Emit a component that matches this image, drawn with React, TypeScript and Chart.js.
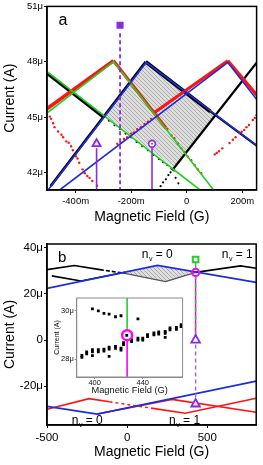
import React, { useEffect, useRef } from 'react';
import { Chart, registerables } from 'chart.js';

Chart.register(...registerables);

const FONT = "'Liberation Sans', Arial, Helvetica, sans-serif";

// ================= Panel a (x: field in G, y: current in µA) =================
const aXTicks = [-0.4, -0.2, 0, 0.2];
const aXTickLabels = ['-400m', '-200m', '0', '200m'];
const aYTicks = [42, 45, 48, 51];
const aYTickLabels = ['42μ', '45μ', '48μ', '51μ'];

// fitted lines
const aGreen1X = [-0.503, -0.2635, 0.097];
const aGreen1Y = [45.21, 48.0, 41.04];
const aGreen2X = [-0.503, 0.048];
const aGreen2Y = [47.46, 41.04];
const aBlue1X = [-0.499, -0.146, 0.2515];
const aBlue1Y = [41.04, 47.96, 43.46];
const aBlue2X = [-0.4575, 0.148, 0.2515];
const aBlue2Y = [41.04, 47.96, 45.96];

// dense measured branches
const aRed1X = [-0.503, -0.2635];
const aRed1Y = [45.45, 48.05];
const aRed2X = [-0.2635, -0.075];
const aRed2Y = [48.05, 44.4];
const aRed3X = [-0.12, 0.148];
const aRed3Y = [45.2, 48.05];
const aRed4X = [0.148, 0.2515];
const aRed4Y = [48.05, 46.2];

const aBlk1X = [-0.503, -0.3];
const aBlk1Y = [47.38, 45.0];
const aBlk2X = [-0.49, -0.148];
const aBlk2Y = [41.25, 48.0];
const aBlk3X = [-0.148, 0.085];
const aBlk3Y = [48.0, 45.3];
const aBlk4X = [0.085, 0.2515];
const aBlk4Y = [45.3, 43.45];
const aBlk5X = [-0.05, 0.2515];
const aBlk5Y = [42.15, 47.95];

// sparse measured points
const aRedSparse1X = [-0.493, -0.488, -0.481, -0.476, -0.463, -0.451, -0.445, -0.434, -0.425, -0.416, -0.41, -0.399, -0.393, -0.387, -0.375, -0.367, -0.358, -0.35, -0.34, -0.323];
const aRedSparse1Y = [45.02, 44.9, 44.66, 44.45, 44.21, 44.04, 43.9, 43.68, 43.6, 43.41, 43.2, 42.87, 42.75, 42.52, 42.16, 41.95, 41.8, 41.7, 41.53, 41.27];
const aRedSparse2X = [-0.25, -0.238, -0.226, -0.214, -0.2, -0.19, -0.178, -0.165, -0.152, -0.14, -0.128];
const aRedSparse2Y = [43.55, 43.62, 43.81, 43.9, 44.1, 44.16, 44.34, 44.45, 44.62, 44.74, 44.9];
const aRedSparse3X = [-0.07, -0.055, -0.045, -0.032, -0.02, -0.008, 0.004, 0.016, 0.028, 0.04, 0.052];
const aRedSparse3Y = [44.35, 44.0, 43.85, 43.55, 43.3, 43.1, 42.85, 42.65, 42.4, 42.15, 41.95];
const aRedSparse4X = [0.101, 0.108, 0.116, 0.128, 0.154, 0.166, 0.176, 0.189, 0.198, 0.207, 0.215, 0.224, 0.238, 0.245, 0.2515];
const aRedSparse4Y = [42.97, 43.05, 43.14, 43.3, 43.59, 43.77, 43.9, 44.13, 44.2, 44.3, 44.45, 44.57, 44.84, 44.95, 45.11];
const aBlkSparse1X = [-0.28, -0.26, -0.24, -0.22, -0.2, -0.18, -0.16, -0.14, -0.12, -0.1, -0.085, -0.07, -0.055, -0.045];
const aBlkSparse1Y = [44.8, 44.55, 44.35, 44.1, 43.9, 43.65, 43.42, 43.2, 42.95, 42.72, 42.55, 42.4, 42.2, 42.1];
const aBlkSparse2X = [-0.094, -0.085, -0.075, -0.066, -0.058, -0.05, -0.04, -0.03];
const aBlkSparse2Y = [41.25, 41.45, 41.62, 41.85, 42.0, 42.15, 41.7, 41.4];

// hatched region (closed polygon)
const aHatchX = [-0.148, 0.104, -0.044, -0.293];
const aHatchY = [47.85, 45.14, 42.23, 45.07];

// markers
const aSquareX = [-0.24];
const aSquareY = [49.98];
const aDashX = [-0.24, -0.24];
const aDashY = [49.55, 41.04];
const aTriX = [-0.3245];
const aTriY = [43.55];
const aTriStemX = [-0.3245, -0.3245];
const aTriStemY = [43.3, 41.04];
const aCircX = [-0.125];
const aCircY = [43.55];
const aCircStemX = [-0.125, -0.125];
const aCircStemY = [43.33, 41.04];

// ================= Panel b =================
const bXTicks = [-500, 0, 500];
const bXTickLabels = ['-500', '0', '500'];
const bYTicks = [-20, 0, 20, 40];
const bYTickLabels = ['-20μ', '0', '20μ', '40μ'];

const bBlueTopX = [-500, 189, 805];
const bBlueTopY = [22.4, 32.3, 25.0];
const bBlueBotX = [-500, -187, 805];
const bBlueBotY = [-28.7, -32.1, -17.8];

const bBlkUpX = [-500, -330, -170];
const bBlkUpY = [30.5, 32.3, 30.5];
const bBlkUpDashX = [-170, -14];
const bBlkUpDashY = [30.5, 28.9];
const bBlkLowX = [-470, -288, -14];
const bBlkLowY = [27.8, 25.6, 29.4];
const bBlkRightX = [427, 707, 805];
const bBlkRightY = [29.3, 32.1, 31.1];
const bHatchX = [-14, 189, 427, 240];
const bHatchY = [28.9, 32.2, 29.3, 25.3];
const bHatchEdgeX = [-14, 240, 427];
const bHatchEdgeY = [28.9, 25.3, 29.3];

const bRedA1X = [-500, -238, -110];
const bRedA1Y = [-30.0, -25.4, -26.75];
const bRedA2X = [-110, 150];
const bRedA2Y = [-26.75, -29.5];
const bRedA3X = [150, 362, 805];
const bRedA3Y = [-29.5, -31.7, -25.2];
const bRedBX = [-187, 280, 805];
const bRedBY = [-32.0, -25.7, -31.3];

const bMarkX = [427];
const bSquareY = [34.9];
const bCircleY = [29.3];
const bTri1Y = [0];
const bTri2Y = [-27.7];
const bVX = [427, 427];
const bGreenSegY = [33.6, 30.7];
const bMixSegY = [27.9, 1.9];
const bPurpleSegY = [-1.9, -25.9];

// ================= Inset =================
const iXTicks = [400, 440];
const iXTickLabels = ['400', '440'];
const iYTicks = [28, 30];
const iYTickLabels = ['28μ', '30μ'];
const iUpX = [398.1, 403, 407.7, 412, 417.3, 421.9, 436];
const iUpY = [30.07, 29.99, 29.89, 29.86, 29.75, 29.79, 29.66];
const iLowX = [389.3, 389.3, 393.3, 393.3, 398.1, 398.1, 398.1, 403, 403, 407.7, 407.7, 412, 412, 412, 417.3, 417.3, 421.9, 421.9, 424, 424, 426.7, 430.7, 430.7, 436, 436, 440, 440, 444, 444, 449.3, 449.3, 453.3, 453.3, 458.7, 458.7, 458.7, 462.7, 462.7, 468, 468, 472, 472];
const iLowY = [28.08, 28.16, 28.22, 28.3, 28.31, 28.39, 28.15, 28.31, 28.39, 28.34, 28.42, 28.42, 28.5, 28.12, 28.45, 28.53, 28.38, 28.46, 28.6, 28.68, 28.98, 28.73, 28.81, 28.79, 28.87, 28.79, 28.87, 28.93, 29.01, 29.0, 29.08, 29.04, 29.12, 29.07, 29.15, 28.9, 29.21, 29.29, 29.23, 29.31, 29.34, 29.42];
const iVX = [427, 427];
const iGreenY = [30.52, 29.22];
const iMagentaY = [28.76, 27.27];
const iCircX = [427];
const iCircY = [28.99];

// ================= colours =================
const RED = '#ff1414';
const BLACK = '#000000';
const GREEN = '#22d022';
const BLUE = '#1c2ee0';
const PURPLE = '#8a2be2';
const LPURPLE = '#a26ad8';
const MAGENTA = '#ff00ff';

function pts(xs: number[], ys: number[]) {
  return xs.map((x, i) => ({ x, y: ys[i] }));
}

function line(xs: number[], ys: number[], color: string, width: number, order: number, dash: number[] = []) {
  return {
    type: 'line', data: pts(xs, ys), borderColor: color, backgroundColor: color,
    borderWidth: width, borderDash: dash, pointRadius: 0, pointHoverRadius: 0,
    fill: false, tension: 0, order, borderCapStyle: 'butt',
  };
}

function dots(xs: number[], ys: number[], color: string, radius: number, order: number, style = 'circle') {
  return {
    type: 'scatter', data: pts(xs, ys), pointStyle: style, pointRadius: radius, pointHoverRadius: radius,
    pointBackgroundColor: color, pointBorderColor: color, pointBorderWidth: 0, order,
  };
}

function marker(xs: number[], ys: number[], style: string, radius: number, border: string, fillC: string, bw: number, order: number) {
  return {
    type: 'scatter', data: pts(xs, ys), pointStyle: style, pointRadius: radius, pointHoverRadius: radius,
    pointBorderColor: border, pointBackgroundColor: fillC, pointBorderWidth: bw, order,
  };
}

function hatch(xs: number[], ys: number[], pat: any, order: number) {
  return {
    type: 'line', data: pts(xs, ys), fill: 'shape', backgroundColor: pat,
    borderColor: 'rgba(0,0,0,0)', borderWidth: 0, pointRadius: 0, tension: 0, order,
  };
}

function makeHatch() {
  const c = document.createElement('canvas');
  c.width = 4; c.height = 4;
  const g = c.getContext('2d')!;
  g.fillStyle = '#dedede';
  g.fillRect(0, 0, 4, 4);
  g.strokeStyle = '#acacac';
  g.lineWidth = 1;
  g.beginPath();
  g.moveTo(-1, -1); g.lineTo(5, 5);
  g.moveTo(-1, 3); g.lineTo(1, 5);
  g.moveTo(3, -1); g.lineTo(5, 1);
  g.stroke();
  return g.createPattern(c, 'repeat') || '#cccccc';
}

function axis(o: any) {
  return {
    type: 'linear', min: o.min, max: o.max, bounds: 'data',
    afterBuildTicks: (s: any) => { s.ticks = o.ticks.map((v: number) => ({ value: v })); },
    afterFit: (s: any) => { if (o.horizontal) s.height = o.size; else s.width = o.size; },
    ticks: {
      autoSkip: false, maxRotation: 0, minRotation: 0, padding: o.tickPad, color: o.textColor,
      font: { family: FONT, size: o.tickFont, lineHeight: 1 },
      callback: (_v: any, i: number) => o.labels[i],
    },
    grid: { display: true, drawOnChartArea: false, drawTicks: true, tickLength: o.tickLen, color: o.lineColor, lineWidth: 1 },
    border: { display: true, color: o.lineColor, width: o.borderW },
    title: { display: true, text: o.title, color: o.textColor, font: { family: FONT, size: o.titleFont }, padding: o.titlePad },
  };
}

function frame(color: string, width: number) {
  return {
    id: 'frame',
    afterDatasetsDraw(chart: any) {
      const { ctx, chartArea: a } = chart;
      ctx.save();
      ctx.strokeStyle = color;
      ctx.lineWidth = width;
      ctx.strokeRect(a.left, a.top, a.right - a.left, a.bottom - a.top);
      ctx.restore();
    },
  };
}

function baseOptions(padding: any, scales: any) {
  return {
    animation: false, responsive: false, maintainAspectRatio: false, events: [],
    layout: { padding },
    plugins: { legend: { display: false }, tooltip: { enabled: false }, title: { display: false } },
    scales,
  };
}

function configA(pat: any): any {
  return {
    type: 'scatter',
    data: {
      datasets: [
        hatch(aHatchX, aHatchY, pat, 30),
        line(aBlk1X, aBlk1Y, BLACK, 3.2, 20),
        line(aBlk2X, aBlk2Y, BLACK, 2.6, 20),
        line(aBlk3X, aBlk3Y, BLACK, 3.8, 20),
        line(aBlk4X, aBlk4Y, BLACK, 2.2, 20),
        line(aBlk5X, aBlk5Y, BLACK, 2.2, 20),
        dots(aBlkSparse1X, aBlkSparse1Y, BLACK, 1.1, 19),
        dots(aBlkSparse2X, aBlkSparse2Y, BLACK, 1.1, 19),
        line(aRed1X, aRed1Y, RED, 3.6, 15),
        line(aRed2X, aRed2Y, RED, 3.2, 15),
        line(aRed3X, aRed3Y, RED, 3.2, 15),
        line(aRed4X, aRed4Y, RED, 3.2, 15),
        dots(aRedSparse1X, aRedSparse1Y, RED, 1.2, 14),
        dots(aRedSparse2X, aRedSparse2Y, RED, 1.2, 14),
        dots(aRedSparse3X, aRedSparse3Y, RED, 1.2, 14),
        dots(aRedSparse4X, aRedSparse4Y, RED, 1.2, 14),
        line(aGreen1X, aGreen1Y, GREEN, 1.6, 6),
        line(aGreen2X, aGreen2Y, GREEN, 1.6, 6),
        line(aBlue1X, aBlue1Y, BLUE, 1.6, 5),
        line(aBlue2X, aBlue2Y, BLUE, 1.6, 5),
        line(aDashX, aDashY, PURPLE, 1.8, 2, [4, 3]),
        line(aTriStemX, aTriStemY, PURPLE, 1.6, 2),
        line(aCircStemX, aCircStemY, PURPLE, 1.6, 2),
        marker(aSquareX, aSquareY, 'rect', 5, PURPLE, PURPLE, 0, 1),
        marker(aTriX, aTriY, 'triangle', 4.6, PURPLE, '#efe2ff', 1.8, 1),
        marker(aCircX, aCircY, 'circle', 3.4, PURPLE, '#ffffff', 1.6, 1),
        marker(aCircX, aCircY, 'circle', 0.9, PURPLE, PURPLE, 0, 0),
      ],
    },
    options: baseOptions({ left: 0, right: 2, top: 5, bottom: 0 }, {
      x: axis({
        min: -0.503, max: 0.2515, ticks: aXTicks, labels: aXTickLabels, horizontal: true, size: 40,
        tickFont: 9.5, tickPad: 3.5, tickLen: 3, title: 'Magnetic Field (G)', titleFont: 14,
        titlePad: { top: 0, bottom: 4.2 }, lineColor: '#000', borderW: 1.5, textColor: '#000',
      }),
      y: axis({
        min: 41.04, max: 51.0, ticks: aYTicks, labels: aYTickLabels, horizontal: false, size: 47,
        tickFont: 9.5, tickPad: 1, tickLen: 3, title: 'Current (A)', titleFont: 14,
        titlePad: { top: 2, bottom: 0 }, lineColor: '#000', borderW: 1.5, textColor: '#000',
      }),
    }),
    plugins: [frame('#000', 1.5)],
  };
}

function configB(pat: any): any {
  return {
    type: 'scatter',
    data: {
      datasets: [
        hatch(bHatchX, bHatchY, pat, 30),
        line(bHatchEdgeX, bHatchEdgeY, '#555555', 1.2, 25),
        line(bBlkUpX, bBlkUpY, BLACK, 1.6, 20),
        line(bBlkUpDashX, bBlkUpDashY, BLACK, 1.6, 20, [4, 2]),
        line(bBlkLowX, bBlkLowY, BLACK, 1.6, 20),
        line(bBlkRightX, bBlkRightY, BLACK, 1.6, 20),
        line(bRedA1X, bRedA1Y, RED, 1.6, 15),
        line(bRedA2X, bRedA2Y, RED, 1.4, 15, [3, 3]),
        line(bRedA3X, bRedA3Y, RED, 1.6, 15),
        line(bRedBX, bRedBY, RED, 1.6, 15),
        line(bBlueTopX, bBlueTopY, BLUE, 1.7, 5),
        line(bBlueBotX, bBlueBotY, BLUE, 1.7, 5),
        line(bVX, bGreenSegY, GREEN, 1.5, 3),
        line(bVX, bMixSegY, MAGENTA, 1.5, 4),
        line(bVX, bMixSegY, GREEN, 1.5, 3, [4, 4]),
        line(bVX, bPurpleSegY, LPURPLE, 1.5, 3, [4, 3]),
        marker(bMarkX, bSquareY, 'rect', 4, GREEN, '#ffffff', 2, 1),
        marker(bMarkX, bCircleY, 'circle', 3.6, MAGENTA, 'rgba(255,255,255,0)', 2, 1),
        marker(bMarkX, bTri1Y, 'triangle', 5, PURPLE, '#ffffff', 1.8, 1),
        marker(bMarkX, bTri2Y, 'triangle', 5, PURPLE, '#efe2ff', 1.8, 1),
      ],
    },
    options: baseOptions({ left: 0, right: 2, top: 14, bottom: 0 }, {
      x: axis({
        min: -500, max: 805, ticks: bXTicks, labels: bXTickLabels, horizontal: true, size: 40,
        tickFont: 11.5, tickPad: 3.7, tickLen: 3, title: 'Magnetic Field (G)', titleFont: 14,
        titlePad: { top: 0, bottom: 4.8 }, lineColor: '#000', borderW: 1.5, textColor: '#000',
      }),
      y: axis({
        min: -36.8, max: 41.6, ticks: bYTicks, labels: bYTickLabels, horizontal: false, size: 47,
        tickFont: 11.5, tickPad: 1, tickLen: 3, title: 'Current (A)', titleFont: 14,
        titlePad: { top: 2, bottom: 0 }, lineColor: '#000', borderW: 1.5, textColor: '#000',
      }),
    }),
    plugins: [frame('#000', 1.5)],
  };
}

function configI(): any {
  return {
    type: 'scatter',
    data: {
      datasets: [
        dots(iUpX, iUpY, BLACK, 2, 10, 'rect'),
        dots(iLowX, iLowY, BLACK, 2, 10, 'rect'),
        line(iVX, iGreenY, GREEN, 1.6, 5),
        line(iVX, iMagentaY, MAGENTA, 1.6, 5),
        marker(iCircX, iCircY, 'circle', 5, MAGENTA, 'rgba(255,255,255,0)', 2.4, 1),
      ],
    },
    options: baseOptions({ left: 0, right: 3, top: 8, bottom: 0 }, {
      x: axis({
        min: 385, max: 473.2, ticks: iXTicks, labels: iXTickLabels, horizontal: true, size: 23,
        tickFont: 7.5, tickPad: 0, tickLen: 2, title: 'Magnetic Field (G)', titleFont: 9.3,
        titlePad: { top: 0, bottom: 4.3 }, lineColor: '#8a8a8a', borderW: 1, textColor: '#111',
      }),
      y: axis({
        min: 27.27, max: 30.52, ticks: iYTicks, labels: iYTickLabels, horizontal: false, size: 26.7,
        tickFont: 7.5, tickPad: 1, tickLen: 2, title: 'Current (A)', titleFont: 7,
        titlePad: { top: 3.3, bottom: 0 }, lineColor: '#8a8a8a', borderW: 1, textColor: '#111',
      }),
    }),
    plugins: [frame('#8a8a8a', 1)],
  };
}

function Txt({ left, top, size, children }: any) {
  return (
    <div style={{ position: 'absolute', left, top, fontSize: size, lineHeight: `${size}px`, fontFamily: FONT, color: '#000', whiteSpace: 'nowrap' }}>
      {children}
    </div>
  );
}

function Nv({ left, top, n }: any) {
  return (
    <Txt left={left} top={top} size={12}>
      n<span style={{ fontSize: 7, position: 'relative', top: 3, marginLeft: 0.5 }}>v</span> = {n}
    </Txt>
  );
}

export default function App() {
  const refA = useRef<HTMLCanvasElement>(null);
  const refB = useRef<HTMLCanvasElement>(null);
  const refI = useRef<HTMLCanvasElement>(null);

  useEffect(() => {
    const pat = makeHatch();
    const charts: Chart[] = [];
    if (refA.current) charts.push(new Chart(refA.current, configA(pat)));
    if (refB.current) charts.push(new Chart(refB.current, configB(pat)));
    if (refI.current) charts.push(new Chart(refI.current, configI()));
    return () => { charts.forEach((c) => c.destroy()); };
  }, []);

  return (
    <div style={{ position: 'absolute', left: 0, top: 0, width: 263, height: 465, background: '#fff', overflow: 'hidden' }}>
      <canvas ref={refA} width={263} height={230} style={{ position: 'absolute', left: 0, top: 0 }} />
      <canvas ref={refB} width={263} height={235} style={{ position: 'absolute', left: 0, top: 230 }} />
      <canvas ref={refI} width={140} height={110} style={{ position: 'absolute', left: 50, top: 290 }} />
      <Txt left={58.5} top={11.5} size={16}>a</Txt>
      <Txt left={58} top={249} size={15}>b</Txt>
      <Nv left={141.7} top={248} n={0} />
      <Nv left={221.7} top={248} n={1} />
      <Nv left={71.7} top={413.8} n={0} />
      <Nv left={169} top={413.8} n={1} />
    </div>
  );
}
